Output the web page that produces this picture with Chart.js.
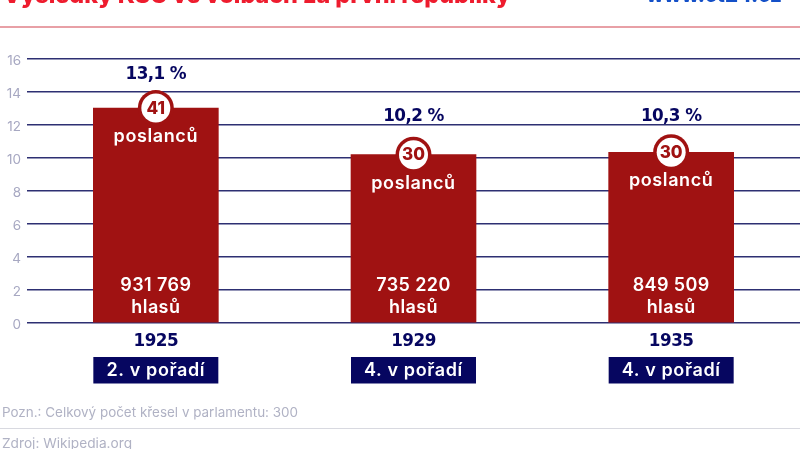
<!DOCTYPE html>
<html>
<head>
<meta charset="utf-8">
<script src="https://cdn.jsdelivr.net/npm/chart.js@4"></script>
<style>
  html, body { margin: 0; padding: 0; background: #fff; overflow: hidden; }
  #wrap { position: relative; width: 800px; height: 449px; overflow: hidden; }
  #wrap div { position: absolute; white-space: nowrap; }
  #title { left: 3px; top: -20px; font: 800 23.3px "Inter", sans-serif; color: #ee1c2e; }
  #site { right: 18px; top: -18px; font: 800 20.5px "Inter", sans-serif; color: #1450c8; }
  #rule1 { left: 0; top: 26px; width: 800px; height: 2px; background: #e8a0a6; }
  #note { left: 2px; top: 404px; font: 13.45px "Inter", sans-serif; color: #b0b2c4; }
  #rule2 { left: 0; top: 427.5px; width: 800px; height: 1.5px; background: #d8d9e0; }
  #source { left: 2px; top: 435px; font: 13.7px "Inter", sans-serif; color: #b0b2c4; }
</style>
</head>
<body>
<div id="wrap">
  <canvas id="chart" width="800" height="449"></canvas>
  <div id="title">Výsledky KSČ ve volbách za první republiky</div>
  <div id="site">www.ct24.cz</div>
  <div id="rule1"></div>
  <div id="note">Pozn.: Celkový počet křesel v parlamentu: 300</div>
  <div id="rule2"></div>
  <div id="source">Zdroj: Wikipedia.org</div>
</div>
<script>
const years = ['1925', '1929', '1935'];
const barValues = [13.03, 10.2, 10.35];
const shareLabels = ['13,1 %', '10,2 %', '10,3 %'];
const seats = ['41', '30', '30'];
const votes = ['931 769', '735 220', '849 509'];
const ranks = ['2. v pořadí', '4. v pořadí', '4. v pořadí'];

const NAVY = '#060660';
const RED = '#a01212';
const SHARE_GAPS = [33.5, 38.5, 36];  // the percent labels do not keep one distance from the bars

// Text and badges that sit on the bars, placed from the bars' own positions
const barLabels = {
    id: 'barLabels',
    afterDatasetsDraw(chart) {
        const ctx = chart.ctx;
        const yScale = chart.scales.y;
        const zero = yScale.getPixelForValue(0);
        ctx.save();
        ctx.textBaseline = 'middle';

        // y tick labels sit a little under their grid lines
        ctx.textAlign = 'right';
        ctx.fillStyle = '#a7a8c2';
        ctx.font = '13.5px "Inter", sans-serif';
        yScale.ticks.forEach(tick => {
            ctx.fillText(tick.value, 21, yScale.getPixelForValue(tick.value) + 1.5);
        });

        ctx.textAlign = 'center';
        chart.getDatasetMeta(0).data.forEach((bar, i) => {
            const x = bar.x;
            const top = bar.y;

            ctx.fillStyle = NAVY;
            ctx.letterSpacing = '-0.6px';
            ctx.font = 'bold 16.8px "DejaVu Sans", sans-serif';
            ctx.fillText(shareLabels[i], x, top - SHARE_GAPS[i]);

            // seat badge
            ctx.beginPath();
            ctx.arc(x, top, 18, 0, Math.PI * 2);
            ctx.fillStyle = RED;
            ctx.fill();
            ctx.beginPath();
            ctx.arc(x, top, 14.5, 0, Math.PI * 2);
            ctx.fillStyle = '#fff';
            ctx.fill();
            ctx.fillStyle = RED;
            ctx.letterSpacing = '0px';
            ctx.font = '800 17px "Inter", sans-serif';
            ctx.fillText(seats[i], x, top + 0.5);

            ctx.fillStyle = '#fff';
            ctx.font = '600 18px "Inter", sans-serif';
            ctx.letterSpacing = '0.6px';
            ctx.fillText('poslanců', x, top + 28.5);
            ctx.letterSpacing = '0.4px';
            ctx.fillText(votes[i], x, zero - 37);
            ctx.fillText('hlasů', x, zero - 15);

            ctx.fillStyle = NAVY;
            ctx.letterSpacing = '-0.5px';
            ctx.font = 'bold 16.8px "DejaVu Sans", sans-serif';
            ctx.fillText(years[i], x, zero + 19);

            // rank box under the year
            ctx.fillRect(x - 62.5, zero + 34, 125, 26.5);
            ctx.fillStyle = '#fff';
            ctx.font = '600 18px "Inter", sans-serif';
            ctx.letterSpacing = '0.6px';
            ctx.fillText(ranks[i], x, zero + 47.5);
        });
        ctx.restore();
    }
};

new Chart(document.getElementById('chart'), {
    type: 'bar',
    data: {
        labels: years,
        datasets: [{
            data: barValues,
            backgroundColor: RED,
            barThickness: 125
        }]
    },
    options: {
        responsive: false,
        animation: false,
        layout: { padding: { top: 59, bottom: 126, left: 0, right: 0 } },
        plugins: { legend: { display: false }, tooltip: { enabled: false } },
        scales: {
            x: { display: false },
            y: {
                min: 0,
                max: 16,
                afterFit: scale => { scale.width = 27; },
                border: { display: false },
                grid: { color: '#2d2f72', lineWidth: 1.5, drawTicks: false },
                ticks: { stepSize: 2, display: false }
            }
        }
    },
    plugins: [barLabels]
});
</script>
</body>
</html>
